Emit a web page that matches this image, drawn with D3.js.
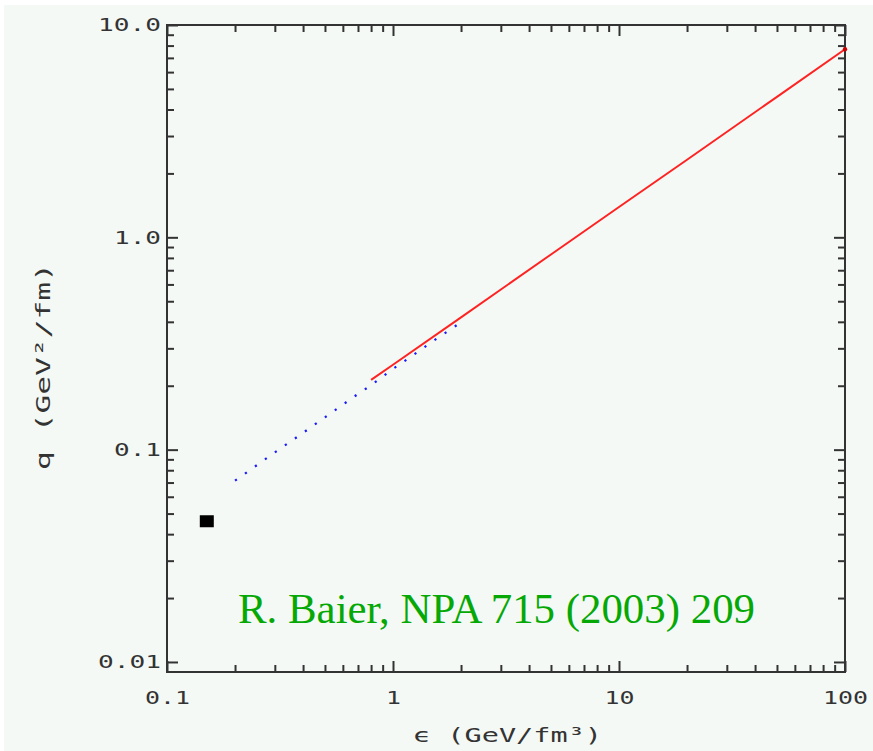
<!DOCTYPE html>
<html><head><meta charset="utf-8">
<script src="https://cdn.jsdelivr.net/npm/d3@7"></script>
<style>html,body{margin:0;padding:0;background:#fff;}svg{display:block;}</style>
</head><body>
<svg id="chart" width="873" height="751"></svg>
<script>
// ---- data ----
const xMajor = [0.1, 1, 10, 100];
const xMajorLabels = ["0.1", "1", "10", "100"];
const xMinor = [0.2,0.3,0.4,0.5,0.6,0.7,0.8,0.9, 2,3,4,5,6,7,8,9, 20,30,40,50,60,70,80,90];
const yMajor = [0.01, 0.1, 1, 10];
const yMajorLabels = ["0.01", "0.1", "1.0", "10.0"];
const yMinor = [0.02,0.03,0.04,0.05,0.06,0.07,0.08,0.09, 0.2,0.3,0.4,0.5,0.6,0.7,0.8,0.9, 2,3,4,5,6,7,8,9];

const redEps = [0.8, 1, 2, 5, 10, 20, 50, 100];
const redQ   = [0.213, 0.251, 0.42, 0.83, 1.39, 2.32, 4.59, 7.69];
const blueEps = [0.2, 0.3, 0.4, 0.5, 0.6, 0.7, 0.8, 1.0, 1.2, 1.5, 2.0];
const blueQ   = [0.0715, 0.097, 0.12, 0.142, 0.163, 0.183, 0.201, 0.24, 0.274, 0.324, 0.398];
const pointEps = [0.15];
const pointQ = [0.046];

const xLabelText = "\u03f5 (GeV/fm\u00b3)";
const yLabelText = "q  (GeV\u00b2/fm)";
const noteText = "R. Baier, NPA 715 (2003) 209";

// ---- layout ----
const L = 167, R = 845, T = 25, B = 672;
const svg = d3.select("#chart");
svg.append("rect").attr("x", 4).attr("y", 5).attr("width", 869).attr("height", 746).attr("fill", "#f4f9f5");

const x = d3.scaleLog().domain([0.1, 100]).range([L, R]);
const y = d3.scaleLog().domain([0.00897, 10]).range([B, T]);

const axisColor = "#333";
function styleAxis(g) {
  g.select(".domain").remove();
  g.selectAll(".tick line").attr("stroke", axisColor).attr("stroke-width", 2);
}
const monoFont = "'DejaVu Sans Mono', monospace";

// bottom major with labels
const gxB = svg.append("g").attr("transform", `translate(0,${B})`)
  .call(d3.axisBottom(x).tickValues(xMajor).tickSize(-11).tickPadding(19)
    .tickFormat((d, i) => xMajorLabels[i]));
styleAxis(gxB);
gxB.selectAll(".tick text").attr("font-family", monoFont).attr("font-size", 18).attr("fill", "#333")
  .attr("textLength", (d, i) => xMajorLabels[i].length * 15)
  .attr("lengthAdjust", "spacingAndGlyphs");
// bottom minor
styleAxis(svg.append("g").attr("transform", `translate(0,${B})`)
  .call(d3.axisBottom(x).tickValues(xMinor).tickSize(-7).tickFormat("")));
// top
styleAxis(svg.append("g").attr("transform", `translate(0,${T})`)
  .call(d3.axisTop(x).tickValues(xMajor).tickSize(-11).tickFormat("")));
styleAxis(svg.append("g").attr("transform", `translate(0,${T})`)
  .call(d3.axisTop(x).tickValues(xMinor).tickSize(-7).tickFormat("")));

// left major with labels
const gyL = svg.append("g").attr("transform", `translate(${L},0)`)
  .call(d3.axisLeft(y).tickValues(yMajor).tickSize(-11).tickPadding(6)
    .tickFormat((d, i) => yMajorLabels[i]));
styleAxis(gyL);
gyL.selectAll(".tick text").attr("font-family", monoFont).attr("font-size", 18).attr("fill", "#333")
  .attr("textLength", (d, i) => yMajorLabels[i].length * 16 - 1)
  .attr("lengthAdjust", "spacingAndGlyphs");
styleAxis(svg.append("g").attr("transform", `translate(${L},0)`)
  .call(d3.axisLeft(y).tickValues(yMinor).tickSize(-7).tickFormat("")));
// right
styleAxis(svg.append("g").attr("transform", `translate(${R},0)`)
  .call(d3.axisRight(y).tickValues(yMajor).tickSize(-11).tickFormat("")));
styleAxis(svg.append("g").attr("transform", `translate(${R},0)`)
  .call(d3.axisRight(y).tickValues(yMinor).tickSize(-7).tickFormat("")));

// frame
svg.append("rect").attr("x", L).attr("y", T).attr("width", R - L).attr("height", B - T)
  .attr("fill", "none").attr("stroke", axisColor).attr("stroke-width", 2);

// series
const line = d3.line().x(d => x(d[0])).y(d => y(d[1]));
svg.append("path").datum(blueEps.map((e, i) => [e, blueQ[i]]))
  .attr("d", line).attr("fill", "none").attr("stroke", "#1a1aff").attr("stroke-width", 2.2)
  .attr("stroke-dasharray", "2.2,10");
svg.append("path").datum(redEps.map((e, i) => [e, redQ[i]]))
  .attr("d", line).attr("fill", "none").attr("stroke", "#ff2222").attr("stroke-width", 2);
svg.append("circle").attr("cx", x(redEps[redEps.length - 1])).attr("cy", y(redQ[redQ.length - 1]))
  .attr("r", 2.2).attr("fill", "#cc0000");

// square point
svg.selectAll("rect.pt").data(pointEps.map((e, i) => [e, pointQ[i]])).enter().append("rect")
  .attr("class", "pt")
  .attr("x", d => x(d[0]) - 7).attr("y", d => y(d[1]) - 6)
  .attr("width", 14).attr("height", 12).attr("fill", "#000");

// annotation
svg.append("text").attr("x", 238).attr("y", 623)
  .attr("font-family", "'Liberation Serif', 'Times New Roman', serif").attr("font-size", 42)
  .attr("fill", "#05a805").attr("textLength", 517).attr("lengthAdjust", "spacingAndGlyphs")
  .text(noteText);

// axis titles
svg.append("text").attr("x", 413).attr("y", 742)
  .attr("font-family", monoFont).attr("font-size", 20).attr("fill", "#333")
  .attr("textLength", 189).attr("lengthAdjust", "spacingAndGlyphs").text(xLabelText);
svg.append("text").attr("transform", "translate(50,470) rotate(-90)")
  .attr("font-family", monoFont).attr("font-size", 20).attr("fill", "#333")
  .attr("textLength", 207).attr("lengthAdjust", "spacingAndGlyphs").text(yLabelText);
</script>
</body></html>
